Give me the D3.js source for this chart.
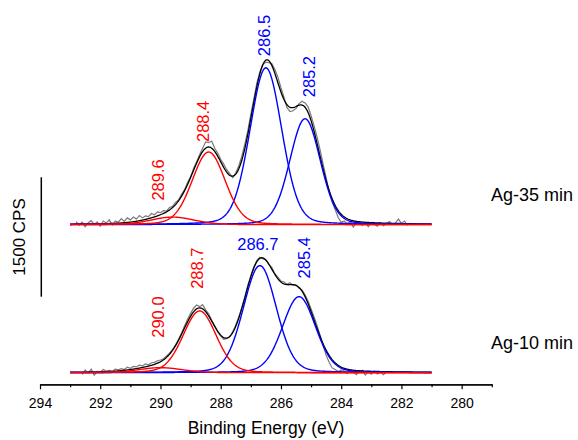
<!DOCTYPE html>
<html>
<head>
<meta charset="utf-8">
<script src="https://cdn.jsdelivr.net/npm/d3@7"></script>
<style>
  body { margin: 0; background: #fff; }
  svg { display: block; }
  text { font-family: "Liberation Sans", Arial, Helvetica, sans-serif; }
</style>
</head>
<body>
<svg id="chart" width="578" height="440"></svg>
<script>
// ---- data -------------------------------------------------------------
const xTicks = [294, 292, 290, 288, 286, 284, 282, 280];
const xMinorTicks = [293, 291, 289, 287, 285, 283, 281, 279];
const sampleNames = ["Ag-35 min", "Ag-10 min"];
const stackOffsets = [1860, 0];          // counts added to stack the spectra
const scaleBarCounts = 1500;
const scaleBarStart = 955;               // counts where the scale bar begins

// fitted C 1s components: centre (eV), height (counts), FWHM (eV)
const peaks35Centers = [289.6, 288.4, 286.5, 285.2];
const peaks35Heights = [95, 912, 1970, 1330];
const peaks35Widths  = [1.7, 1.3, 1.25, 1.2];
const peaks10Centers = [290.0, 288.7, 286.7, 285.4];
const peaks10Heights = [63, 775, 1345, 955];
const peaks10Widths  = [1.7, 1.3, 1.3, 1.3];
const peakGroups = ["oxidised", "oxidised", "carbon", "carbon"];

// measured spectra, 0.1 eV steps from the start energy downwards
const raw35Start = 292.8;
const raw35 = [38, -5, 30, -25, 25, 50, 0, 35, -20, 45, 20, 60, -5, 45, 30, 75, 40, 85, 60,
  95, 70, 115, 85, 110, 100, 140, 125, 160, 150,
  175, 170, 215, 230, 280, 310, 380, 440, 530, 600, 710, 790, 880, 960, 1040, 1030, 1050,
  960, 900, 820, 760, 690, 640, 590, 650, 740, 860, 1010, 1180, 1390,
  1580, 1780, 1920, 2010, 2040, 2035, 2020, 1950, 1850, 1720, 1600, 1470, 1420, 1430, 1460,
  1520, 1550, 1530, 1480, 1370, 1240, 1100, 940, 760, 590, 420, 280, 190, 90, 30,
  45, 10, 40, -30, 20, 35, -10, 25, -25, 30, 5, -20, 25, -15, 10, 40, 5, 20, 70, 15, 45, -5, 20];
const raw10Start = 292.6;
const raw10 = [-20, 35, -5, 45, -30, 15, 5, 40, 20, 30, 15, 45, 35, 50, 40, 70, 55, 80, 75,
  95, 85, 110, 100, 125, 130, 150, 160,
  175, 210, 245, 290, 350, 420, 500, 590, 670, 745, 810, 850, 830, 855, 790, 740, 660,
  590, 515, 460, 420, 430, 450, 515, 600, 700, 820, 950, 1100, 1220,
  1330, 1410, 1450, 1430, 1420, 1360, 1320, 1240, 1200, 1150, 1140, 1110, 1130, 1100, 1100,
  1060, 1040, 980, 900, 800, 700, 590, 470, 340, 220, 130, 60, 40, 15, 35,
  20, -10, 25, 10, -25, 15, 30, -30, 10, -20, 20, -15, 10, -25, 5];

// ---- layout -----------------------------------------------------------
const svg = d3.select("#chart");
const x = d3.scaleLinear().domain([294, 279]).range([40, 491.8]);
const y = d3.scaleLinear().domain([0, 4000]).range([372.7, 54.3]);
const groupColor = { oxidised: "#ff0000", carbon: "#0000ff" };
const ETA = 0.15;      // Lorentzian fraction of the line shape
const fitRange = [293, 281];

// peak label placement: horizontal nudge, gap above the envelope, orientation
const labelLayout = [
  [{dx: -14.5, gap: 7, rot: true}, {dx: -5.4, gap: 5, rot: true}, {dx: -2, gap: 4, rot: true}, {dx: 4, gap: 10, rot: true}],
  [{dx: -2, gap: 24, rot: true}, {dx: -3, gap: 19, rot: true}, {dx: -2, gap: 8, rot: false}, {dx: 5, gap: 9, rot: true}]
];

function lineShape(e, c, h, w) {
  const t = (e - c) / w;
  return h * ((1 - ETA) * Math.exp(-4 * Math.LN2 * t * t) + ETA / (1 + 4 * t * t));
}

const spectra = [
  { centers: peaks35Centers, heights: peaks35Heights, widths: peaks35Widths, raw: raw35, start: raw35Start },
  { centers: peaks10Centers, heights: peaks10Heights, widths: peaks10Widths, raw: raw10, start: raw10Start }
];

const grid = d3.range(fitRange[0], fitRange[1] - 0.001, -0.02);
const line = d3.line().x(d => x(d[0])).y(d => y(d[1]));

spectra.forEach((s, k) => {
  const off = stackOffsets[k];
  const comps = s.centers.map((c, i) => grid.map(e => [e, off + lineShape(e, c, s.heights[i], s.widths[i])]));
  const envelope = grid.map(e => [e, off + d3.sum(s.centers, (c, i) => lineShape(e, c, s.heights[i], s.widths[i]))]);
  const rawPts = s.raw.map((v, i) => [s.start - i * 0.1, off + v]);

  const g = svg.append("g");
  g.append("path").attr("d", line(rawPts))
    .attr("fill", "none").attr("stroke", "#7a7a7a").attr("stroke-width", 1.2);
  g.append("path").attr("d", line(envelope))
    .attr("fill", "none").attr("stroke", "#000").attr("stroke-width", 1.3);
  // carbon components first, oxidised ones on top
  const order = d3.range(comps.length).sort((a, b) => (peakGroups[a] === "carbon" ? 0 : 1) - (peakGroups[b] === "carbon" ? 0 : 1));
  order.forEach(i => {
    g.append("path").attr("d", line(comps[i]))
      .attr("fill", "none").attr("stroke", groupColor[peakGroups[i]]).attr("stroke-width", 1.4);
  });

  // peak position labels
  const fmt = d3.format(".1f");
  s.centers.forEach((c, i) => {
    const lay = labelLayout[k][i];
    const env = off + d3.sum(s.centers, (cc, j) => lineShape(c, cc, s.heights[j], s.widths[j]));
    const px = x(c) + lay.dx, py = y(env) - lay.gap;
    const t = g.append("text").text(fmt(c))
      .attr("fill", groupColor[peakGroups[i]]).attr("font-size", 16.5);
    if (lay.rot) {
      t.attr("transform", `translate(${px},${py}) rotate(-90)`)
        .attr("text-anchor", "start").attr("dominant-baseline", "central");
    } else {
      t.attr("x", px).attr("y", py).attr("text-anchor", "middle");
    }
  });

  // sample name
  svg.append("text").text(sampleNames[k])
    .attr("x", 573).attr("y", y(off + 370) + 6)
    .attr("text-anchor", "end").attr("font-size", 18).attr("fill", "#000");
});

// x axis with minor ticks
const axisY = 384.3;
const minor = svg.append("g").attr("transform", `translate(0,${axisY})`)
  .call(d3.axisBottom(x).tickValues(xMinorTicks).tickSize(3).tickSizeOuter(0).tickFormat(""));
const major = svg.append("g").attr("transform", `translate(0,${axisY})`)
  .call(d3.axisBottom(x).tickValues(xTicks).tickSize(5).tickSizeOuter(0).tickPadding(9).tickFormat(d3.format("d")));
[minor, major].forEach(a => {
  a.selectAll("path, line").attr("stroke", "#000").attr("stroke-width", 1.2);
  a.selectAll("text").attr("font-size", 14).attr("fill", "#000")
    .attr("font-family", "'Liberation Sans', Arial, sans-serif");
});

svg.append("text").text("Binding Energy (eV)")
  .attr("x", 266).attr("y", 434).attr("text-anchor", "middle")
  .attr("font-size", 17.5).attr("fill", "#000");

// intensity scale bar
const barX = 41.3;
svg.append("line")
  .attr("x1", barX).attr("x2", barX)
  .attr("y1", y(scaleBarStart)).attr("y2", y(scaleBarStart + scaleBarCounts))
  .attr("stroke", "#000").attr("stroke-width", 1.5);
svg.append("text").text(scaleBarCounts + " CPS")
  .attr("transform", `translate(19.5,${(y(scaleBarStart) + y(scaleBarStart + scaleBarCounts)) / 2}) rotate(-90)`)
  .attr("text-anchor", "middle").attr("dominant-baseline", "central")
  .attr("font-size", 17).attr("fill", "#000");
</script>
</body>
</html>
